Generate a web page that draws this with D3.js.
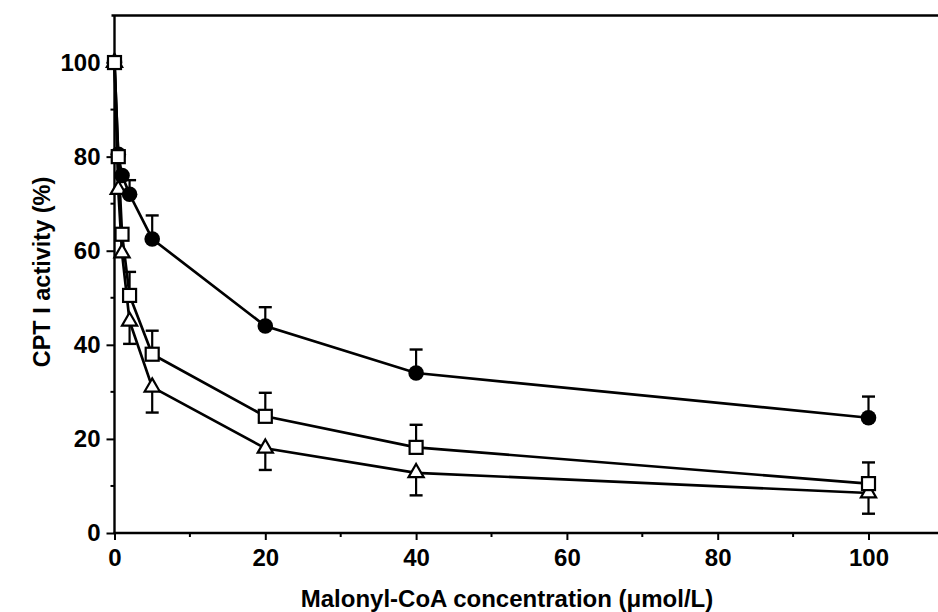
<!DOCTYPE html>
<html>
<head>
<meta charset="utf-8">
<script src="https://cdn.jsdelivr.net/npm/d3@7"></script>
<style>
  body { margin: 0; background: #fff; }
  text { font-family: "Liberation Sans", Arial, sans-serif; font-weight: bold; fill: #000; }
</style>
</head>
<body>
<div class="canvas"></div>
<script>
// data
const conc = [0, 0.5, 1, 2, 5, 20, 40, 100];
const circleVals = [100, 80.5, 76, 72, 62.5, 44, 34, 24.5];
const circleErr  = [0, 0, 0, 3, 5, 4, 5, 4.5];
const squareVals = [100, 80, 63.5, 50.5, 38, 24.8, 18.2, 10.5];
const squareErr  = [0, 0, 0, 5, 5, 5, 4.8, 4.5];
const triVals    = [100, 73, 59.5, 45, 31, 18, 12.8, 8.5];
const triErr     = [0, 0, 0, 4.8, 5.4, 4.6, 4.8, 4.4];

const xTicks = [0, 20, 40, 60, 80, 100];
const yTicks = [0, 20, 40, 60, 80, 100];

const width = 938, height = 612;

const svg = d3.select('.canvas')
  .append('svg')
    .attr('width', width)
    .attr('height', height);

// scales
const x = d3.scaleLinear().domain([0, 110]).range([114.5, 943.9]);
const y = d3.scaleLinear().domain([0, 110]).range([533, 15.5]);

// axes
const xAxis = d3.axisBottom(x).tickValues(xTicks).tickSize(7).tickPadding(9).tickFormat(d3.format('d'));
const yAxis = d3.axisLeft(y).tickValues(yTicks).tickSize(8).tickPadding(6).tickFormat(d3.format('d'));

const xAxisGroup = svg.append('g').attr('transform', `translate(0, ${y(0)})`).call(xAxis);
const yAxisGroup = svg.append('g').attr('transform', `translate(${x(0)}, 0)`).call(yAxis);

// minor ticks
xAxisGroup.selectAll('.minor')
  .data([10, 30, 50, 70, 90])
  .enter().append('line')
    .attr('x1', d => x(d)).attr('x2', d => x(d))
    .attr('y1', 0).attr('y2', 4)
    .attr('stroke', '#000').attr('stroke-width', 2);
yAxisGroup.selectAll('.minor')
  .data([10, 30, 50, 70, 90])
  .enter().append('line')
    .attr('y1', d => y(d)).attr('y2', d => y(d))
    .attr('x1', 0).attr('x2', -4)
    .attr('stroke', '#000').attr('stroke-width', 2);

[xAxisGroup, yAxisGroup].forEach(g => {
  g.select('.domain').remove();
  g.selectAll('.tick line').attr('stroke', '#000').attr('stroke-width', 2);
  g.selectAll('.tick text').style('font-size', '24px');
});

// axis lines + top frame
svg.append('line').attr('x1', x(0) - 1).attr('x2', width).attr('y1', y(0)).attr('y2', y(0))
  .attr('stroke', '#000').attr('stroke-width', 2.4);
svg.append('line').attr('x1', x(0)).attr('x2', x(0)).attr('y1', y(110)).attr('y2', y(0))
  .attr('stroke', '#000').attr('stroke-width', 2.4);
svg.append('line').attr('x1', x(0) - 3).attr('x2', width).attr('y1', y(110)).attr('y2', y(110))
  .attr('stroke', '#000').attr('stroke-width', 2.4);

// titles
svg.append('text')
  .attr('x', 507).attr('y', 607)
  .attr('text-anchor', 'middle')
  .style('font-size', '24px')
  .text('Malonyl-CoA concentration (μmol/L)');

svg.append('text')
  .attr('transform', 'translate(50, 272) rotate(-90)')
  .attr('text-anchor', 'middle')
  .style('font-size', '23.5px')
  .text('CPT I activity (%)');

const series = [
  { name: 'triangle', vals: triVals, err: triErr, dir: -1 },
  { name: 'circle', vals: circleVals, err: circleErr, dir: 1 },
  { name: 'square', vals: squareVals, err: squareErr, dir: 1 }
];

const line = d3.line().x(d => x(d.c)).y(d => y(d.v));

const toPoints = s => conc.map((c, i) => ({ c, v: s.vals[i], e: s.err[i] }));

// lines
series.forEach(s => {
  svg.append('path')
    .datum(toPoints(s))
    .attr('d', line)
    .attr('fill', 'none')
    .attr('stroke', '#000')
    .attr('stroke-width', 2.7);
});

// error bars
series.forEach(s => {
  const g = svg.append('g');
  const pts = toPoints(s).filter(d => d.e > 0);
  g.selectAll('line.bar')
    .data(pts).enter().append('line')
      .attr('x1', d => x(d.c)).attr('x2', d => x(d.c))
      .attr('y1', d => y(d.v)).attr('y2', d => y(d.v + s.dir * d.e))
      .attr('stroke', '#000').attr('stroke-width', 2.2);
  g.selectAll('line.cap')
    .data(pts).enter().append('line')
      .attr('x1', d => x(d.c) - 6.5).attr('x2', d => x(d.c) + 6.5)
      .attr('y1', d => y(d.v + s.dir * d.e)).attr('y2', d => y(d.v + s.dir * d.e))
      .attr('stroke', '#000').attr('stroke-width', 2.4);
});

// markers
series.forEach(s => {
  const g = svg.append('g');
  const pts = toPoints(s);
  if (s.name === 'circle') {
    g.selectAll('circle').data(pts).enter().append('circle')
      .attr('cx', d => x(d.c)).attr('cy', d => y(d.v)).attr('r', 7.8)
      .attr('fill', '#000');
  } else if (s.name === 'square') {
    g.selectAll('rect').data(pts).enter().append('rect')
      .attr('x', d => x(d.c) - 6.5).attr('y', d => y(d.v) - 6.5)
      .attr('width', 13).attr('height', 13)
      .attr('fill', '#fff').attr('stroke', '#000').attr('stroke-width', 2.2);
  } else {
    g.selectAll('path').data(pts).enter().append('path')
      .attr('d', d3.symbol().type(d3.symbolTriangle).size(100))
      .attr('transform', d => `translate(${x(d.c)}, ${y(d.v)})`)
      .attr('fill', '#fff').attr('stroke', '#000').attr('stroke-width', 2.2);
  }
});
</script>
</body>
</html>
